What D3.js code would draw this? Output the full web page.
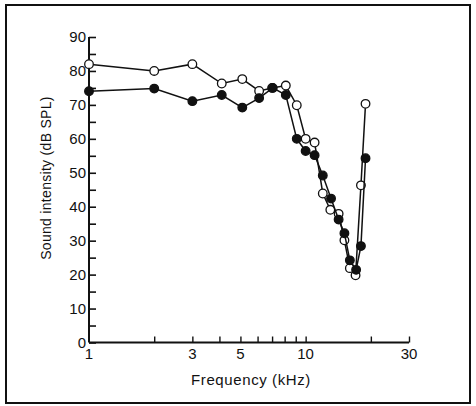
<!DOCTYPE html>
<html>
<head>
<meta charset="utf-8">
<script src="https://cdn.jsdelivr.net/npm/d3@7"></script>
<style>
  body { margin: 0; background: #fff; }
  svg text { font-family: "Liberation Sans", Arial, sans-serif; fill: #111; }
</style>
</head>
<body>
<svg id="chart" width="476" height="406"></svg>
<script>
// 数据:频率(kHz)与声强(dB SPL)
const openFreq = [1, 2, 3, 4.1, 5.1, 6.1, 7, 8.1, 9.1, 10, 11, 12, 13, 14.2, 15.1, 16, 17, 18, 18.9]
const openDb   = [82, 80, 82, 76.3, 77.6, 74.1, 75, 75.7, 69.9, 60, 58.9, 43.9, 39.1, 37.9, 30.1, 21.9, 19.8, 46.3, 70.3]
const fillFreq = [1, 2, 3, 4.1, 5.1, 6.1, 7.05, 8.1, 9.1, 10, 11, 12, 13.1, 14.2, 15.1, 16, 17.1, 18, 18.9]
const fillDb   = [74, 74.8, 71.1, 72.9, 69.2, 72, 75, 72.9, 60, 56.4, 55.2, 49.2, 42.4, 36.2, 32.2, 24.2, 21.4, 28.4, 54.3]

const xTickLabels = [1, 3, 5, 10, 30]
const xMinorTicks = [2, 3, 4, 5, 6, 7, 8, 9, 10, 20, 30]
const yTickLabels = [0, 10, 20, 30, 40, 50, 60, 70, 80, 90]

const svg = d3.select('#chart')

// 外框
svg.append('rect')
    .attr('x', 6).attr('y', 5)
    .attr('width', 464).attr('height', 398)
    .attr('fill', 'none')
    .attr('stroke', '#111')
    .attr('stroke-width', 2)

const x = d3.scaleLog().domain([1, 30]).range([89, 409])
const y = d3.scaleLinear().domain([0, 90]).range([342.5, 37])

const g = svg.append('g')

// y轴:刻度朝内
const yAxis = d3.axisRight(y)
    .tickValues(d3.range(0, 91, 5))
    .tickSize(7)
    .tickFormat('')
g.append('g')
    .attr('transform', `translate(${x(1)},0)`)
    .call(yAxis)
    .call(a => a.select('.domain').remove())
    .call(a => a.selectAll('line').attr('stroke', '#111').attr('stroke-width', 1.6))

g.append('line')
    .attr('x1', x(1)).attr('x2', x(1))
    .attr('y1', y(90)).attr('y2', y(0))
    .attr('stroke', '#111').attr('stroke-width', 2)

g.selectAll('.ylab')
    .data(yTickLabels)
    .join('text')
    .attr('class', 'ylab')
    .attr('x', 86)
    .attr('y', d => y(d) + 5)
    .attr('text-anchor', 'end')
    .attr('font-size', 15)
    .text(d => d)

// x轴:刻度朝上
const xAxis = d3.axisTop(x)
    .tickValues(xMinorTicks)
    .tickSize(6)
    .tickFormat('')
g.append('g')
    .attr('transform', `translate(0,${y(0)})`)
    .call(xAxis)
    .call(a => a.select('.domain').remove())
    .call(a => a.selectAll('line').attr('stroke', '#111').attr('stroke-width', 1.4))

g.append('line')
    .attr('x1', x(1)).attr('x2', x(30))
    .attr('y1', y(0)).attr('y2', y(0))
    .attr('stroke', '#111').attr('stroke-width', 2)

g.selectAll('.xlab')
    .data(xTickLabels)
    .join('text')
    .attr('class', 'xlab')
    .attr('x', d => x(d))
    .attr('y', 359)
    .attr('text-anchor', 'middle')
    .attr('font-size', 15)
    .text(d => d)

svg.append('text')
    .attr('x', 251).attr('y', 385)
    .attr('text-anchor', 'middle')
    .attr('font-size', 15)
    .attr('letter-spacing', 0.6)
    .text('Frequency (kHz)')

svg.append('text')
    .attr('transform', 'translate(51,178) rotate(-90)')
    .attr('text-anchor', 'middle')
    .attr('font-size', 14)
    .attr('letter-spacing', 0.3)
    .text('Sound intensity (dB SPL)')

// 折线与圆点
const line = d3.line().x(d => x(d[0])).y(d => y(d[1]))
const openPts = openFreq.map((f, i) => [f, openDb[i]])
const fillPts = fillFreq.map((f, i) => [f, fillDb[i]])

function drawSeries(pts, filled) {
    g.append('path')
        .datum(pts)
        .attr('d', line)
        .attr('fill', 'none')
        .attr('stroke', '#111')
        .attr('stroke-width', 1.5)
    g.append('g')
        .selectAll('circle')
        .data(pts)
        .join('circle')
        .attr('cx', d => x(d[0]))
        .attr('cy', d => y(d[1]))
        .attr('r', 4.3)
        .attr('fill', filled ? '#111' : '#fff')
        .attr('stroke', '#111')
        .attr('stroke-width', 1.3)
}

drawSeries(openPts, false)
drawSeries(fillPts, true)
</script>
</body>
</html>
